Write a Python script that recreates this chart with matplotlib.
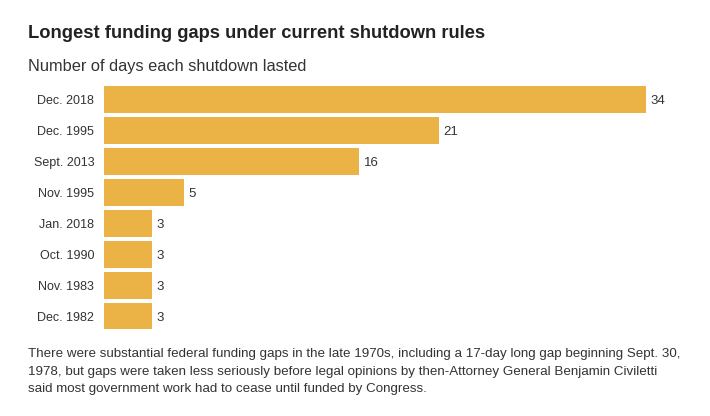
import matplotlib
matplotlib.use("Agg")
import matplotlib.pyplot as plt

# data
labels = ["Dec. 2018", "Dec. 1995", "Sept. 2013", "Nov. 1995",
          "Jan. 2018", "Oct. 1990", "Nov. 1983", "Dec. 1982"]
days = [34, 21, 16, 5, 3, 3, 3, 3]

title = "Longest funding gaps under current shutdown rules"
subtitle = "Number of days each shutdown lasted"
note = ("There were substantial federal funding gaps in the late 1970s, including a 17-day long gap beginning Sept. 30,\n"
        "1978, but gaps were taken less seriously before legal opinions by then-Attorney General Benjamin Civiletti\n"
        "said most government work had to cease until funded by Congress.")

bar_color = "#EBB345"
text_color = "#333333"
fam = ["Liberation Sans", "DejaVu Sans"]

fig = plt.figure(figsize=(7.10, 4.16), dpi=100)
ax = fig.add_axes([104/710, (416-331.5)/416, 596/710, (331.5-84)/416])

ypos = list(range(len(labels)))
ax.barh(ypos, days, height=0.87, color=bar_color)
ax.set_xlim(0, 596/15.94)
ax.set_ylim(len(labels)-0.5, -0.5)
ax.set_yticks(ypos)
ax.set_yticklabels(labels, fontsize=9, color=text_color, family=fam)
ax.tick_params(axis="y", length=0, pad=7)
ax.set_xticks([])
for s in ax.spines.values():
    s.set_visible(False)

for y, v in zip(ypos, days):
    ax.text(v + 0.3, y, str(v), va="center_baseline", ha="left", fontsize=9.5,
            color=text_color, family=fam)

fig.text(28/710, 1 - 34/416, title, fontsize=13.2, fontweight="bold", color="#222222",
         va="center", ha="left", family=fam)
fig.text(28/710, 1 - 67/416, subtitle, fontsize=11.8, color=text_color,
         va="center", ha="left", family=fam)
fig.text(28/710, 1 - 348/416, note, fontsize=9.6, color=text_color, va="top", ha="left",
         linespacing=1.62, family=fam)

fig.savefig("out.png", dpi=100)
